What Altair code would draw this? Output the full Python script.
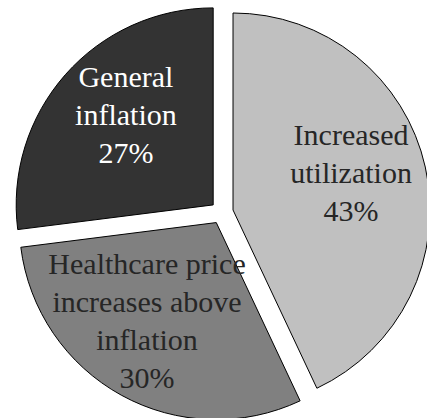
import altair as alt
import pandas as pd

categories = ["Increased utilization",
              "Healthcare price increases above inflation",
              "General inflation"]
values = [43, 30, 27]
labels = ["Increased\nutilization\n43%",
          "Healthcare price\nincreases above\ninflation\n30%",
          "General\ninflation\n27%"]
fills = ["#c0c0c0", "#808080", "#333333"]
text_colors = ["#262626", "#262626", "#ffffff"]

df = pd.DataFrame({"category": categories, "value": values, "label": labels,
                   "order": list(range(len(categories)))})

CX, CY, EXPLODE, R = 221.8, 212.5, 11.5, 197
LH = 38

base = alt.Chart(df).transform_window(
    end="sum(value)", sort=[alt.SortField("order")],
    frame=[None, 0]
).transform_calculate(
    start="datum.end - datum.value",
    mid="datum.end - datum.value / 2",
).transform_calculate(
    cx=f"{CX} + {EXPLODE} * sin(2 * PI * datum.mid / 100)",
    cy=f"{CY} - {EXPLODE} * cos(2 * PI * datum.mid / 100)",
)

theta_scale = alt.Scale(domain=[0, 100], range=[0, 6.283185307179586])

arcs = base.mark_arc(radius=R, stroke="black", strokeWidth=1).encode(
    theta=alt.Theta("start:Q", stack=None, scale=theta_scale),
    theta2="end:Q",
    x=alt.X("cx:Q", scale=None),
    y=alt.Y("cy:Q", scale=None),
    fill=alt.Fill("category:N", scale=alt.Scale(domain=categories, range=fills), legend=None),
)

offsets = {categories[0]: (-2, -9), categories[1]: (-10, -8), categories[2]: (5, -8)}

text_layers = []
for cat, col, lab in zip(categories, text_colors, labels):
    dx, dy = offsets[cat]
    n = lab.count("\n")
    t = base.transform_filter(alt.datum.category == cat).mark_text(
        radius=123, font="Liberation Serif", fontSize=30, lineBreak="\n",
        lineHeight=LH, align="center", baseline="middle", color=col,
        dx=dx, dy=dy - n * LH / 2
    ).encode(
        theta=alt.Theta("mid:Q", stack=None, scale=theta_scale),
        x=alt.X("cx:Q", scale=None),
        y=alt.Y("cy:Q", scale=None),
        text="label:N",
    )
    text_layers.append(t)

chart = alt.layer(arcs, *text_layers).properties(
    width=427, height=418, padding=0, autosize=alt.AutoSizeParams(type="none"),
    background="white"
).configure_view(stroke=None)

chart.save("out.html", embed_options={"renderer": "svg", "actions": False})
